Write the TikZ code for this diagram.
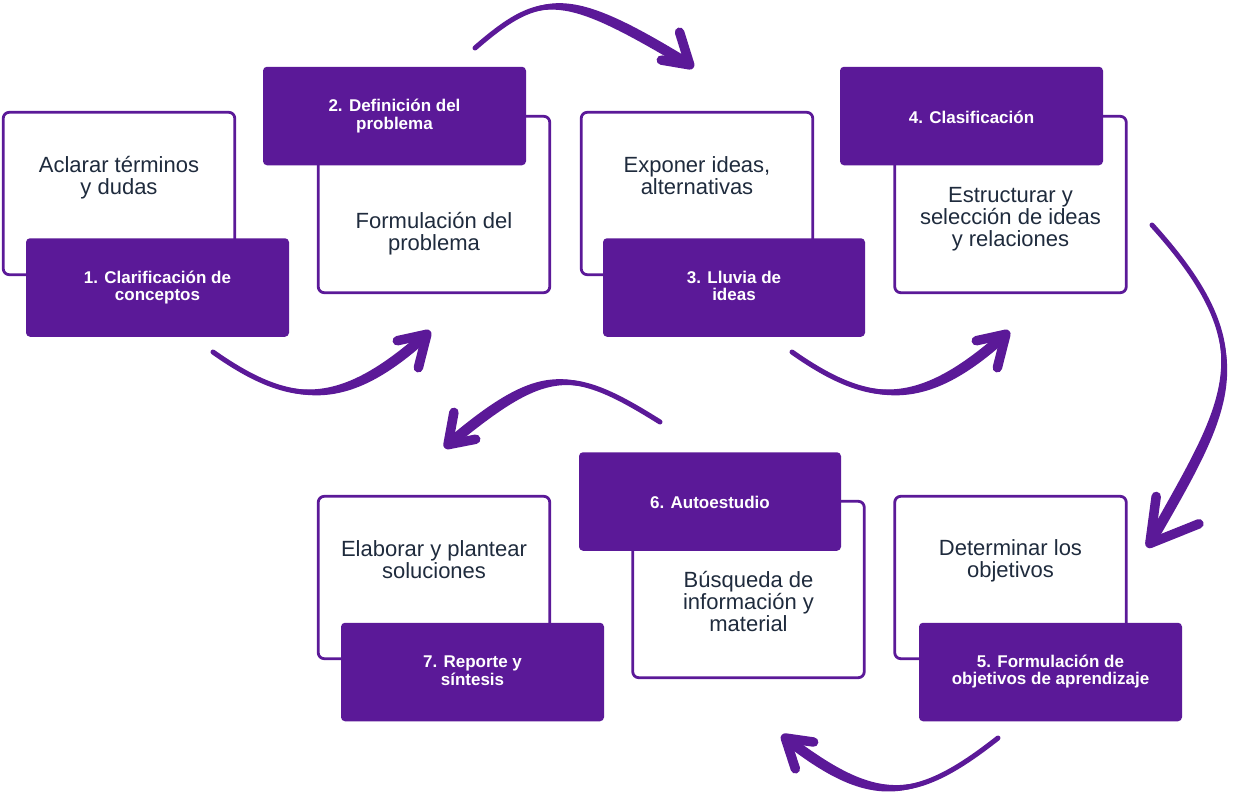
\documentclass[tikz,border=0pt]{standalone}
\usepackage{fontspec}
\setmainfont{Liberation Sans}
\usetikzlibrary{calc}
\definecolor{pur}{RGB}{91,25,152}
\definecolor{ink}{RGB}{31,43,61}
% #1 start, #2 ctrl1, #3 ctrl2, #4 tip, #5 arm1, #6 arm2
\newcommand\swooparrow[6]{%
  \coordinate (#4m) at ($(#5)!0.5!(#6)$);
  \coordinate (#4t) at ($(#4)!4.5pt!(#4m)$);
  \coordinate (#5i) at ($(#5)!4.5pt!(#4)$);
  \coordinate (#6i) at ($(#6)!4.5pt!(#4)$);
  \fill[swoopfill] (#1) .. controls ($(#2)!2.5pt!-90:(#3)$) and ($(#3)!6pt!-90:(#4t)$) .. ($(#4t)!5pt!90:(#3)$)
     -- ($(#4t)!5pt!-90:(#3)$) .. controls ($(#3)!6pt!90:(#4t)$) and ($(#2)!2.5pt!90:(#3)$) .. (#1) -- cycle;
  \draw[swoopline] (#1) .. controls (#2) and (#3) .. (#4t);
  \draw[swoophead] (#5i) -- (#4t) -- (#6i);
}
\begin{document}
\begin{tikzpicture}[x=1pt,y=-1pt,
  wbox/.style={draw=pur, line width=2.8pt, rounded corners=6pt, fill=white, minimum width=231.5pt, inner sep=0pt, outer sep=0pt},
  pbox/.style={fill=pur, rounded corners=4pt, inner sep=0pt, outer sep=0pt, minimum height=98.5pt},
  wtxt/.style={text=ink, font=\fontsize{22}{22}\selectfont, anchor=base, inner sep=0pt},
  ptxt/.style={text=white, font=\bfseries\fontsize{17}{17}\selectfont, anchor=base, inner sep=0pt},
  swoopfill/.style={fill=pur},
  swoopline/.style={draw=pur, line width=5pt, line cap=round},
  swoophead/.style={draw=pur, line width=9.5pt, line cap=round, line join=round},
]
\useasboundingbox (0,0) rectangle (1248,804);
\fill[white] (0,0) rectangle (1248,804);

% ---- boxes ----
\node[wbox, minimum height=162.4pt] (w1) at (119,193.5) {};
\node[pbox, minimum width=263pt] (p1) at (157.5,287.5) {};
\node[wbox, minimum height=176.4pt] (w2) at (434,204.5) {};
\node[pbox, minimum width=263pt] (p2) at (394.5,116) {};
\node[wbox, minimum height=162.4pt] (w3) at (697,193.5) {};
\node[pbox, minimum width=262pt] (p3) at (734,287.5) {};
\node[wbox, minimum height=176.4pt] (w4) at (1010.5,204.5) {};
\node[pbox, minimum width=263pt] (p4) at (971.5,116) {};
\node[wbox, minimum height=176.4pt] (w6) at (748.5,589.5) {};
\node[pbox, minimum width=262pt] (p6) at (710,501.5) {};
\node[wbox, minimum height=162.4pt] (w7) at (434,577.5) {};
\node[pbox, minimum width=263pt] (p7) at (472.5,672) {};
\node[wbox, minimum height=162.4pt] (w5) at (1010.5,577.5) {};
\node[pbox, minimum width=263pt] (p5) at (1050.5,672) {};

% ---- texts ----
\node[wtxt] (t1a) at (119,172) {Aclarar términos};
\node[wtxt] (t1b) at (119,194) {y dudas};
\node[ptxt] (h1a) at (157.5,283) {1. Clarificación de};
\node[ptxt] (h1b) at (157.5,300.5) {conceptos};

\node[ptxt] (h2a) at (394.5,111.5) {2. Definición del};
\node[ptxt] (h2b) at (394.5,129) {problema};
\node[wtxt] (t2a) at (434,228) {Formulación del};
\node[wtxt] (t2b) at (434,250) {problema};

\node[wtxt] (t3a) at (697,172) {Exponer ideas,};
\node[wtxt] (t3b) at (697,194) {alternativas};
\node[ptxt] (h3a) at (734,283) {3. Lluvia de};
\node[ptxt] (h3b) at (734,300.5) {ideas};

\node[ptxt] (h4a) at (971.5,123.5) {4. Clasificación};
\node[wtxt] (t4a) at (1010.5,202) {Estructurar y};
\node[wtxt] (t4b) at (1010.5,224) {selección de ideas};
\node[wtxt] (t4c) at (1010.5,246) {y relaciones};

\node[ptxt] (h6a) at (710,508.3) {6. Autoestudio};
\node[wtxt] (t6a) at (748.5,587) {Búsqueda de};
\node[wtxt] (t6b) at (748.5,609) {información y};
\node[wtxt] (t6c) at (748.5,631) {material};

\node[wtxt] (t7a) at (434,556) {Elaborar y plantear};
\node[wtxt] (t7b) at (434,578) {soluciones};
\node[ptxt] (h7a) at (472.5,667.5) {7. Reporte y};
\node[ptxt] (h7b) at (472.5,685) {síntesis};

\node[wtxt] (t5a) at (1010.5,555) {Determinar los};
\node[wtxt] (t5b) at (1010.5,577.3) {objetivos};
\node[ptxt] (h5a) at (1050.5,667.7) {5. Formulación de};
\node[ptxt] (h5b) at (1050.5,684.7) {objetivos de aprendizaje};

% ---- arrows ----
\coordinate (s1) at (213,352); \coordinate (c1a) at (293,408.5); \coordinate (c1b) at (344.6,408.5);
\coordinate (e1) at (430,331); \coordinate (a1a) at (393,342); \coordinate (a1b) at (417,372);
\swooparrow{s1}{c1a}{c1b}{e1}{a1a}{a1b}

\coordinate (s2) at (475,48); \coordinate (c2a) at (542,-10); \coordinate (c2b) at (566,-10);
\coordinate (e2) at (693,68); \coordinate (a2a) at (678,28); \coordinate (a2b) at (657,59);
\swooparrow{s2}{c2a}{c2b}{e2}{a2a}{a2b}

\coordinate (s3) at (792,352); \coordinate (c3a) at (872,408.5); \coordinate (c3b) at (923.6,408.5);
\coordinate (e3) at (1009,331); \coordinate (a3a) at (972,342); \coordinate (a3b) at (996,372);
\swooparrow{s3}{c3a}{c3b}{e3}{a3a}{a3b}

\coordinate (s4) at (1152,225); \coordinate (c4a) at (1266.6,351.6); \coordinate (c4b) at (1228.5,404.4);
\coordinate (e4) at (1147,547); \coordinate (a4a) at (1157,492); \coordinate (a4b) at (1203,522);
\swooparrow{s4}{c4a}{c4b}{e4}{a4a}{a4b}

\coordinate (s5) at (998,738); \coordinate (c5a) at (913,805); \coordinate (c5b) at (872,805);
\coordinate (e5) at (782,735); \coordinate (a5a) at (818,743); \coordinate (a5b) at (797,773);
\swooparrow{s5}{c5a}{c5b}{e5}{a5a}{a5b}

\coordinate (s6) at (660,422); \coordinate (c6a) at (570,365.5); \coordinate (c6b) at (543,365.5);
\coordinate (e6) at (445,448); \coordinate (a6a) at (455,408); \coordinate (a6b) at (480,438);
\swooparrow{s6}{c6a}{c6b}{e6}{a6a}{a6b}
\end{tikzpicture}
\end{document}
